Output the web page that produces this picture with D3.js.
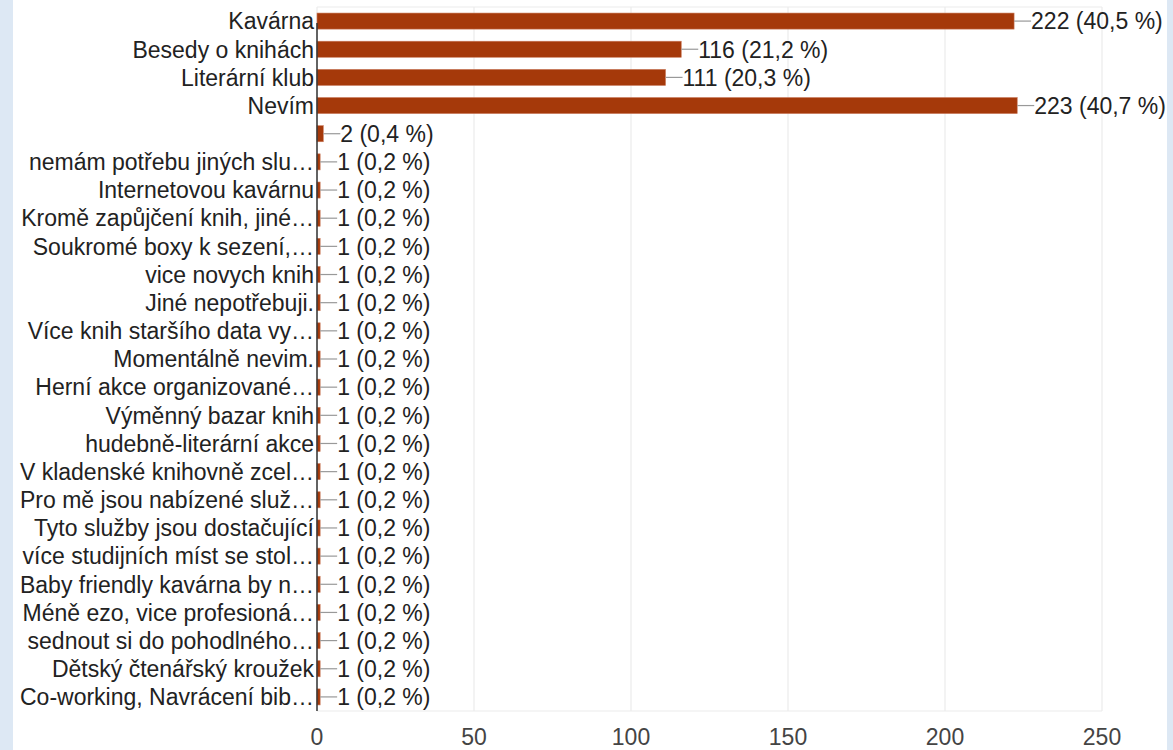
<!DOCTYPE html>
<html><head><meta charset="utf-8">
<script src="https://cdn.jsdelivr.net/npm/d3@7"></script>
<style>
html,body{margin:0;padding:0;background:#fff;}
svg{display:block;}
</style></head>
<body>
<svg id="chart" width="1173" height="750"></svg>
<script>
const categories = ["Kavárna","Besedy o knihách","Literární klub","Nevím","","nemám potřebu jiných slu…","Internetovou kavárnu","Kromě zapůjčení knih, jiné…","Soukromé boxy k sezení,…","vice novych knih","Jiné nepotřebuji.","Více knih staršího data vy…","Momentálně nevim.","Herní akce organizované…","Výměnný bazar knih","hudebně-literární akce","V kladenské knihovně zcel…","Pro mě jsou nabízené služ…","Tyto služby jsou dostačující","více studijních míst se stol…","Baby friendly kavárna by n…","Méně ezo, vice profesioná…","sednout si do pohodlného…","Dětský čtenářský kroužek","Co-working, Navrácení bib…"];
const values = [222,116,111,223,2,1,1,1,1,1,1,1,1,1,1,1,1,1,1,1,1,1,1,1,1];
const percents = ["40,5","21,2","20,3","40,7","0,4","0,2","0,2","0,2","0,2","0,2","0,2","0,2","0,2","0,2","0,2","0,2","0,2","0,2","0,2","0,2","0,2","0,2","0,2","0,2","0,2"];
const xTicks = [0,50,100,150,200,250];

const svg = d3.select("#chart");
svg.append("rect").attr("x",0).attr("y",0).attr("width",1173).attr("height",750).attr("fill","#dde8f4");
svg.append("rect").attr("x",13).attr("y",0).attr("width",1154).attr("height",750).attr("fill","#ffffff");

const pLeft = 317, pRight = 1102, pTop = 7, pBottom = 711;
const FONT = "'Liberation Sans', Arial, sans-serif";
const FS = 23;
const x = d3.scaleLinear().domain([0,250]).range([pLeft,pRight]);
const y = d3.scaleBand().domain(d3.range(categories.length)).range([pTop,pBottom]).paddingInner(0.43).paddingOuter(0.215);

// grid
svg.append("g").selectAll("line").data(xTicks).join("line")
  .attr("x1",d=>x(d)).attr("x2",d=>x(d)).attr("y1",pTop).attr("y2",pBottom)
  .attr("stroke","#ebebeb").attr("stroke-width",1.2);
svg.append("line").attr("x1",pLeft).attr("x2",pRight).attr("y1",pTop).attr("y2",pTop).attr("stroke","#ebebeb").attr("stroke-width",1.2);
svg.append("line").attr("x1",pLeft).attr("x2",pRight).attr("y1",pBottom).attr("y2",pBottom).attr("stroke","#ebebeb").attr("stroke-width",1.2);

const idx = d3.range(categories.length);
// bars
svg.append("g").selectAll("rect").data(idx).join("rect")
  .attr("x",x(0)).attr("y",i=>y(i)).attr("width",i=>x(values[i])-x(0)).attr("height",y.bandwidth())
  .attr("fill","#a5390a").attr("stroke","#c9795a").attr("stroke-width",0.6);

// leader lines
svg.append("g").selectAll("line").data(idx).join("line")
  .attr("x1",i=>x(values[i])).attr("x2",i=>x(values[i])+17)
  .attr("y1",i=>y(i)+y.bandwidth()/2).attr("y2",i=>y(i)+y.bandwidth()/2)
  .attr("stroke","#999").attr("stroke-width",1.2);

// value labels
svg.append("g").selectAll("text").data(idx).join("text")
  .attr("x",i=>x(values[i])+17).attr("y",i=>y(i)+y.bandwidth()/2)
  .attr("dy","0.36em")
  .attr("font-family",FONT).attr("font-size",FS).attr("fill","#222")
  .text(i=>`${values[i]} (${percents[i]} %)`);

// category labels
svg.append("g").selectAll("text").data(idx).join("text")
  .attr("x",pLeft-3).attr("y",i=>y(i)+y.bandwidth()/2)
  .attr("dy","0.36em").attr("text-anchor","end")
  .attr("font-family",FONT).attr("font-size",FS).attr("fill","#222")
  .text(i=>categories[i]);

// axis line
svg.append("line").attr("x1",pLeft).attr("x2",pLeft).attr("y1",pTop+16).attr("y2",pBottom).attr("stroke","#333").attr("stroke-width",1.5);

// tick labels
svg.append("g").selectAll("text").data(xTicks).join("text")
  .attr("x",d=>x(d)).attr("y",745).attr("text-anchor","middle")
  .attr("font-family",FONT).attr("font-size",FS).attr("fill","#444")
  .text(d=>d);
</script>
</body></html>
